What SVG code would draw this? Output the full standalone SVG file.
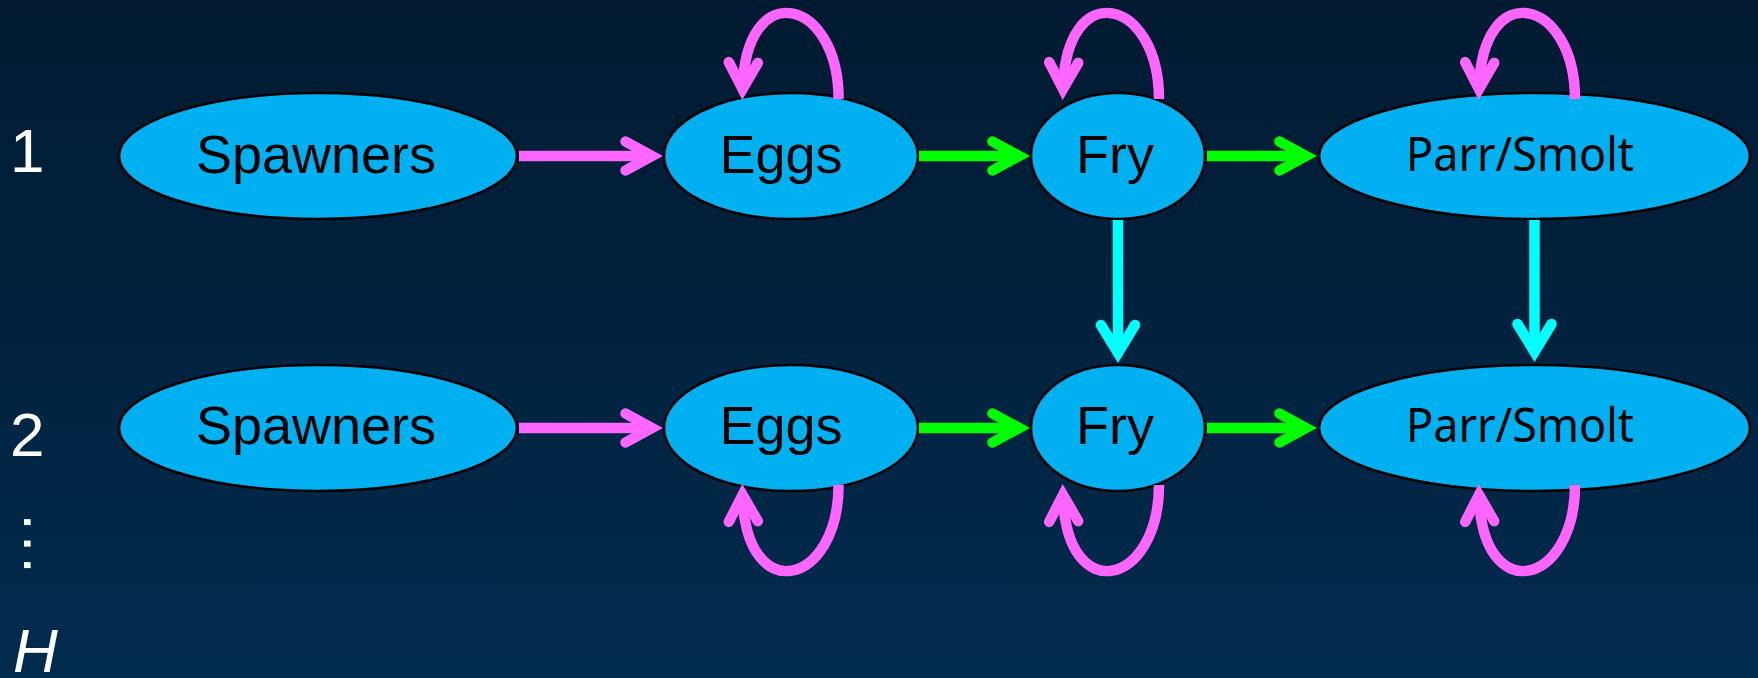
<svg xmlns="http://www.w3.org/2000/svg" width="1758" height="678" viewBox="0 0 1758 678">
<defs>
<linearGradient id="bg" x1="0" y1="0" x2="0" y2="1">
<stop offset="0" stop-color="#011a31"/>
<stop offset="1" stop-color="#012b4e"/>
</linearGradient>
<marker id="ahPink" markerUnits="userSpaceOnUse" orient="auto" overflow="visible" markerWidth="1" markerHeight="1" refX="0" refY="0">
<polyline points="-26.5,-14.5 0,0 -26.5,14.5" fill="none" stroke="#ff66ff" stroke-width="10.5" stroke-linecap="round" stroke-linejoin="miter"/>
</marker>
<marker id="ahGreen" markerUnits="userSpaceOnUse" orient="auto" overflow="visible" markerWidth="1" markerHeight="1" refX="0" refY="0">
<polyline points="-26.5,-14.5 0,0 -26.5,14.5" fill="none" stroke="#00ff00" stroke-width="10.5" stroke-linecap="round" stroke-linejoin="miter"/>
</marker>
<marker id="ahCyan" markerUnits="userSpaceOnUse" orient="auto" overflow="visible" markerWidth="1" markerHeight="1" refX="0" refY="0">
<polyline points="-28,-17 0,0 -28,17" fill="none" stroke="#00ffff" stroke-width="10.5" stroke-linecap="round" stroke-linejoin="miter"/>
</marker>
<path id="loop" d="M 96 99 C 96 -2 3 -25 0 89"/>
</defs>
<style>
.node{fill:#00b0f0;stroke:#000;stroke-width:2.5}
.lbl{font-family:"Liberation Sans",Arial,sans-serif;font-size:54px;fill:#000;text-anchor:middle}
.lbl2{font-family:"Noto Sans","Open Sans",sans-serif;font-size:48px;fill:#000;text-anchor:middle}
.row{font-family:"Liberation Sans",Arial,sans-serif;font-size:62px;fill:#fff}
.pink{fill:none;stroke:#ff66ff;stroke-width:10.5;marker-end:url(#ahPink)}
.green{fill:none;stroke:#00ff00;stroke-width:10.5;marker-end:url(#ahGreen)}
.cyan{fill:none;stroke:#00ffff;stroke-width:10.5;marker-end:url(#ahCyan)}
</style>
<rect x="0" y="0" width="1758" height="678" fill="url(#bg)"/>

<g id="row-labels">
<text class="row" x="10" y="172">1</text>
<text class="row" x="10" y="456">2</text>
<text class="row" x="0" y="0" font-size="60" letter-spacing="4.3" transform="translate(24,513.4) rotate(90)">...</text>
<text class="row" x="13" y="672" font-style="italic">H</text>
</g>

<g id="spawners1"><ellipse class="node" cx="318" cy="156" rx="199" ry="63"/><text class="lbl" x="316" y="173">Spawners</text></g>
<g id="eggs1"><ellipse class="node" cx="791" cy="156" rx="127" ry="63"/><text class="lbl" x="781" y="173">Eggs</text></g>
<g id="fry1"><ellipse class="node" cx="1118" cy="156" rx="87" ry="63"/><text class="lbl" x="1115" y="173">Fry</text></g>
<g id="parr1"><ellipse class="node" cx="1534.5" cy="156" rx="215.5" ry="63"/><text class="lbl2" x="1520" y="171" textLength="228" lengthAdjust="spacingAndGlyphs">Parr/Smolt</text></g>

<g id="spawners2"><ellipse class="node" cx="318" cy="428" rx="199" ry="63"/><text class="lbl" x="316" y="444">Spawners</text></g>
<g id="eggs2"><ellipse class="node" cx="791" cy="428" rx="127" ry="63"/><text class="lbl" x="781" y="444">Eggs</text></g>
<g id="fry2"><ellipse class="node" cx="1118" cy="428" rx="87" ry="63"/><text class="lbl" x="1115" y="444">Fry</text></g>
<g id="parr2"><ellipse class="node" cx="1534.5" cy="428" rx="215.5" ry="63"/><text class="lbl2" x="1520" y="442" textLength="228" lengthAdjust="spacingAndGlyphs">Parr/Smolt</text></g>

<g id="connectors">
<path class="pink" d="M 519 156 H 652"/>
<path class="green" d="M 919 156 H 1019"/>
<path class="green" d="M 1207 156 H 1306"/>
<path class="pink" d="M 519 428 H 652"/>
<path class="green" d="M 919 428 H 1019"/>
<path class="green" d="M 1207 428 H 1306"/>
<path class="cyan" d="M 1118 220 V 353"/>
<path class="cyan" d="M 1534.5 220 V 352"/>
<use href="#loop" class="pink" transform="translate(742.6,0)"/>
<use href="#loop" class="pink" transform="translate(1063,0)"/>
<use href="#loop" class="pink" transform="translate(1479,0)"/>
<use href="#loop" class="pink" transform="translate(742.6,584) scale(1,-1)"/>
<use href="#loop" class="pink" transform="translate(1063,584) scale(1,-1)"/>
<use href="#loop" class="pink" transform="translate(1479,584) scale(1,-1)"/>
</g>
</svg>
